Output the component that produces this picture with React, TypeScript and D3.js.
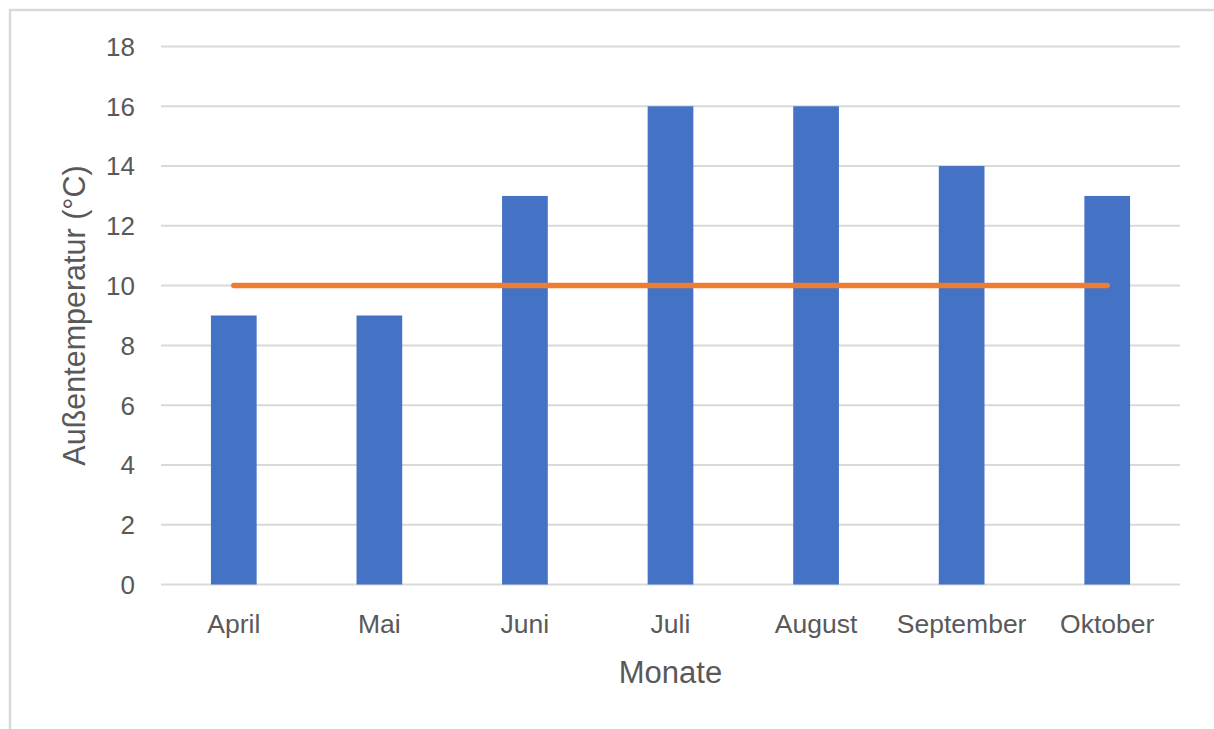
import React from "react";
import * as d3 from "d3";

const months = ["April", "Mai", "Juni", "Juli", "August", "September", "Oktober"];
const temperatures = [9, 9, 13, 16, 16, 14, 13];
const threshold = [10, 10, 10, 10, 10, 10, 10];
const yTicks = [0, 2, 4, 6, 8, 10, 12, 14, 16, 18];

const W = 1214;
const H = 729;
const plot = { left: 161, right: 1180, top: 46.5, bottom: 584.5 };
const font = "'Liberation Sans', Arial, sans-serif";
const textColor = "#595959";

export default function App() {
  const x = d3.scaleBand<string>().domain(months).range([plot.left, plot.right]).paddingInner(0).paddingOuter(0);
  const y = d3.scaleLinear().domain([0, 18]).range([plot.bottom, plot.top]);
  const barW = x.bandwidth() * 0.314;
  const line = d3
    .line<number>()
    .x((_, i) => (x(months[i]) as number) + x.bandwidth() / 2)
    .y((d) => y(d));

  return (
    <svg width={W} height={H} style={{ position: "absolute", left: 0, top: 0, background: "#fff" }}>
      <rect x={10} y={10} width={W + 20} height={H + 20} fill="#fff" stroke="#d9d9d9" strokeWidth={2.5} />
      {yTicks.map((t) => (
        <g key={t}>
          <line x1={plot.left} x2={plot.right} y1={y(t)} y2={y(t)} stroke="#d9d9d9" strokeWidth={2} />
          <text x={135} y={y(t)} dy="0.36em" textAnchor="end" fontFamily={font} fontSize={26} fill={textColor}>
            {t}
          </text>
        </g>
      ))}
      {months.map((m, i) => (
        <rect
          key={m}
          x={(x(m) as number) + x.bandwidth() / 2 - barW / 2}
          y={y(temperatures[i])}
          width={barW}
          height={y(0) - y(temperatures[i])}
          fill="#4472C4"
        />
      ))}
      <path d={line(threshold) || ""} fill="none" stroke="#ED7D31" strokeWidth={5.5} strokeLinecap="round" />
      {months.map((m) => (
        <text
          key={m}
          x={(x(m) as number) + x.bandwidth() / 2}
          y={633}
          textAnchor="middle"
          fontFamily={font}
          fontSize={26.5}
          fill={textColor}
        >
          {m}
        </text>
      ))}
      <text x={(plot.left + plot.right) / 2} y={683} textAnchor="middle" fontFamily={font} fontSize={31} fill={textColor}>
        Monate
      </text>
      <text
        transform={`translate(85, ${(plot.top + plot.bottom) / 2}) rotate(-90)`}
        textAnchor="middle"
        fontFamily={font}
        fontSize={30.5}
        fill={textColor}
      >
        Außentemperatur (°C)
      </text>
    </svg>
  );
}
